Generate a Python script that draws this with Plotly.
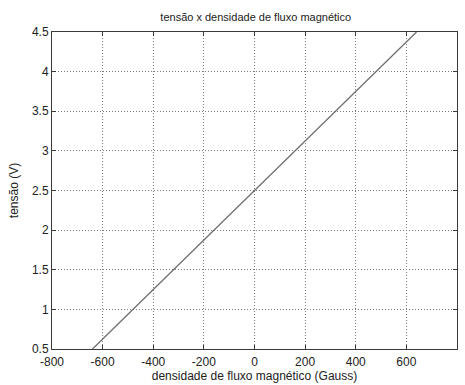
import plotly.graph_objects as go

# Sensor output voltage vs. magnetic flux density
flux_gauss = [-640, -600, -400, -200, 0, 200, 400, 600, 640]
voltage_v = [0.5, 0.625, 1.25, 1.875, 2.5, 3.125, 3.75, 4.375, 4.5]

x_ticks = [-800, -600, -400, -200, 0, 200, 400, 600, 800]
y_ticks = [0.5, 1, 1.5, 2, 2.5, 3, 3.5, 4, 4.5]

font_family = "Liberation Sans, Arial, sans-serif"

fig = go.Figure()
fig.add_trace(go.Scatter(
    x=flux_gauss, y=voltage_v, mode="lines",
    line=dict(color="#6e6e6e", width=1.3),
    showlegend=False, hoverinfo="skip",
))

axis_common = dict(
    showline=True, mirror="allticks", linecolor="#3a3a3a", linewidth=1,
    ticks="inside", ticklen=4, tickcolor="#3a3a3a",
    showgrid=True, gridcolor="#7a7a7a", griddash="1px,2px", gridwidth=1,
    zeroline=False,
    tickfont=dict(family=font_family, size=12, color="#222"),
)

fig.update_layout(
    width=465, height=385,
    margin=dict(l=52, r=7, t=32, b=34),
    paper_bgcolor="white", plot_bgcolor="white",
    font=dict(family=font_family, color="#222"),
    title=dict(
        text="tensão x densidade de fluxo magnético",
        font=dict(family=font_family, size=11, color="#222"),
        x=0.55, xanchor="center", y=0.955, yanchor="middle",
    ),
    xaxis=dict(
        range=[-800, 800], tickvals=x_ticks, ticktext=[str(v) for v in x_ticks],
        ticklabelstandoff=2,
        title=dict(text="densidade de fluxo magnético (Gauss)",
                   font=dict(family=font_family, size=12, color="#222"), standoff=0),
        **axis_common,
    ),
    yaxis=dict(
        range=[0.5, 4.5], tickvals=y_ticks, ticktext=[f"{v:g}" for v in y_ticks],
        title=dict(text="tensão (V)",
                   font=dict(family=font_family, size=12, color="#222"), standoff=10),
        **axis_common,
    ),
)

fig.write_html("out.html")
